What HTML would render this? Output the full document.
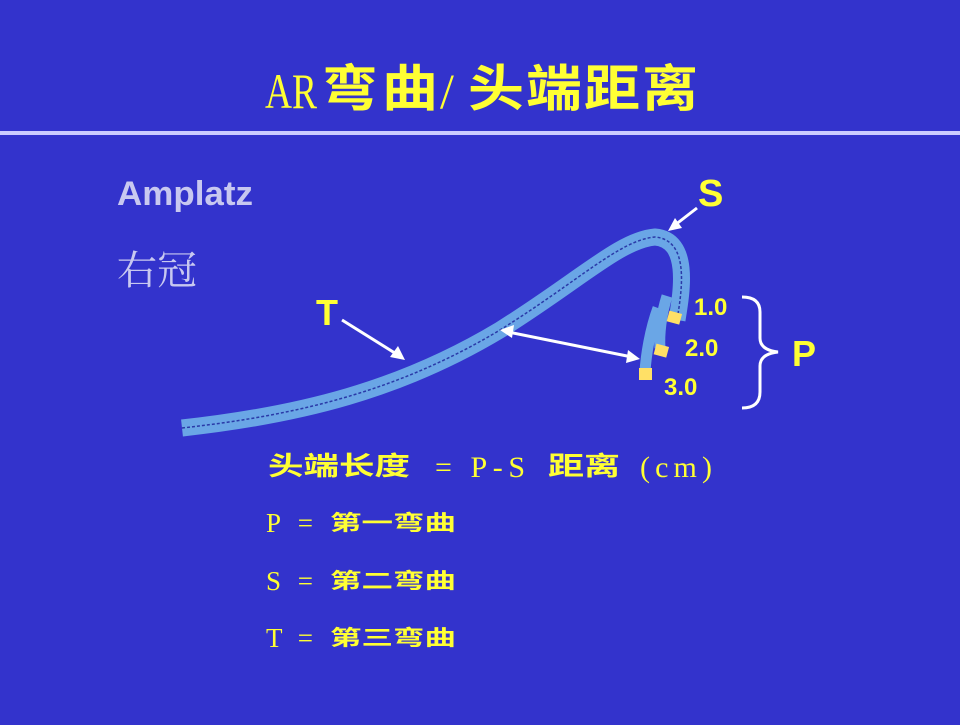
<!DOCTYPE html>
<html><head><meta charset="utf-8"><style>
body{margin:0;width:960px;height:720px;background:#3333cc;overflow:hidden}
text{font-family:"Liberation Serif","Noto Serif CJK SC",serif}
.b{font-family:"Liberation Sans","Noto Sans CJK SC",sans-serif;font-weight:bold}
.c{font-family:"Noto Sans CJK SC",sans-serif;font-weight:bold}
</style></head><body>
<svg width="960" height="720" xmlns="http://www.w3.org/2000/svg">
<rect width="960" height="720" fill="#3333cc"/>
<g fill="#ffff33">
<text x="265" y="108" font-size="50" textLength="52" lengthAdjust="spacingAndGlyphs">AR</text>
<text class="c" x="322" y="106" font-size="50" textLength="56" lengthAdjust="spacingAndGlyphs">弯</text>
<text class="c" x="382" y="106" font-size="50" textLength="56" lengthAdjust="spacingAndGlyphs">曲</text>
<text x="440" y="108" font-size="50">/</text>
<text class="c" x="468" y="106" font-size="50" textLength="56" lengthAdjust="spacingAndGlyphs">头</text>
<text class="c" x="526" y="106" font-size="50" textLength="56" lengthAdjust="spacingAndGlyphs">端</text>
<text class="c" x="584" y="106" font-size="50" textLength="56" lengthAdjust="spacingAndGlyphs">距</text>
<text class="c" x="642" y="106" font-size="50" textLength="56" lengthAdjust="spacingAndGlyphs">离</text>
</g>
<rect x="0" y="131" width="960" height="4" fill="#ccccff"/>
<text class="b" x="117" y="205" font-size="34" fill="#c8c8f0" textLength="136" lengthAdjust="spacingAndGlyphs">Amplatz</text>
<text x="117" y="284" font-size="40" fill="#c8c8f0" font-family="Noto Sans CJK SC">右冠</text>
<!-- catheter -->
<g fill="none" stroke-linecap="butt">
<path d="M182,428 C300,415 400,390 500,330 C580,280 620,240 655,237 C690,240 682,290 677,320" stroke="#6aa6e6" stroke-width="17"/>
<path d="M182,428 C300,415 400,390 500,330 C580,280 620,240 655,237 C690,240 682,290 677,320" stroke="#2a3aa8" stroke-width="1.5" stroke-dasharray="3 2"/>
<path d="M667,296 C661,315 659,335 660,348" stroke="#6aa6e6" stroke-width="11"/>
<path d="M658,308 C650,330 646,355 645,372" stroke="#6aa6e6" stroke-width="11"/>
</g>
<rect x="668" y="312" width="13" height="11" fill="#ffe066" transform="rotate(15 674 317)"/>
<rect x="655" y="345" width="13" height="11" fill="#ffe066" transform="rotate(15 661 350)"/>
<rect x="639" y="368" width="13" height="12" fill="#ffe066"/>
<!-- arrows -->
<g stroke="#fff" stroke-width="3" fill="#fff">
<line x1="342" y1="320" x2="398" y2="355"/>
<polygon points="405,360 390,357 398,346" stroke="none"/>
<line x1="697" y1="208" x2="675" y2="225"/>
<polygon points="668,231 675,218 682,228" stroke="none"/>
<line x1="508" y1="332" x2="632" y2="357"/>
<polygon points="500,330 514,325 512,338" stroke="none"/>
<polygon points="640,359 626,363 628,350" stroke="none"/>
</g>
<text class="b" x="316" y="325" font-size="36" fill="#ffff33">T</text>
<text class="b" x="698" y="206" font-size="38" fill="#ffff33">S</text>
<text class="b" x="694" y="315" font-size="24" fill="#ffff33">1.0</text>
<text class="b" x="685" y="356" font-size="24" fill="#ffff33">2.0</text>
<text class="b" x="664" y="395" font-size="24" fill="#ffff33">3.0</text>
<text class="b" x="792" y="366" font-size="36" fill="#ffff33">P</text>
<path d="M742,297 Q760,297 760,312 L760,338 Q760,350 778,352 Q760,354 760,366 L760,392 Q760,408 742,408" fill="none" stroke="#fff" stroke-width="3"/>
<g fill="#ffff33">
<text class="c" x="268" y="475" font-size="26" textLength="142" lengthAdjust="spacingAndGlyphs">头端长度</text>
<text x="435" y="477" font-size="30" textLength="90">= P-S</text>
<text class="c" x="548" y="475" font-size="26" textLength="72" lengthAdjust="spacingAndGlyphs">距离</text>
<text x="640" y="477" font-size="30" textLength="72">(cm)</text>
<text x="266" y="532" font-size="27" textLength="47">P =</text>
<text class="c" x="330" y="530" font-size="21" textLength="126" lengthAdjust="spacingAndGlyphs">第一弯曲</text>
<text x="266" y="590" font-size="27" textLength="47">S =</text>
<text class="c" x="330" y="588" font-size="21" textLength="126" lengthAdjust="spacingAndGlyphs">第二弯曲</text>
<text x="266" y="647" font-size="27" textLength="47">T =</text>
<text class="c" x="330" y="645" font-size="21" textLength="126" lengthAdjust="spacingAndGlyphs">第三弯曲</text>
</g>
</svg>
</body></html>
